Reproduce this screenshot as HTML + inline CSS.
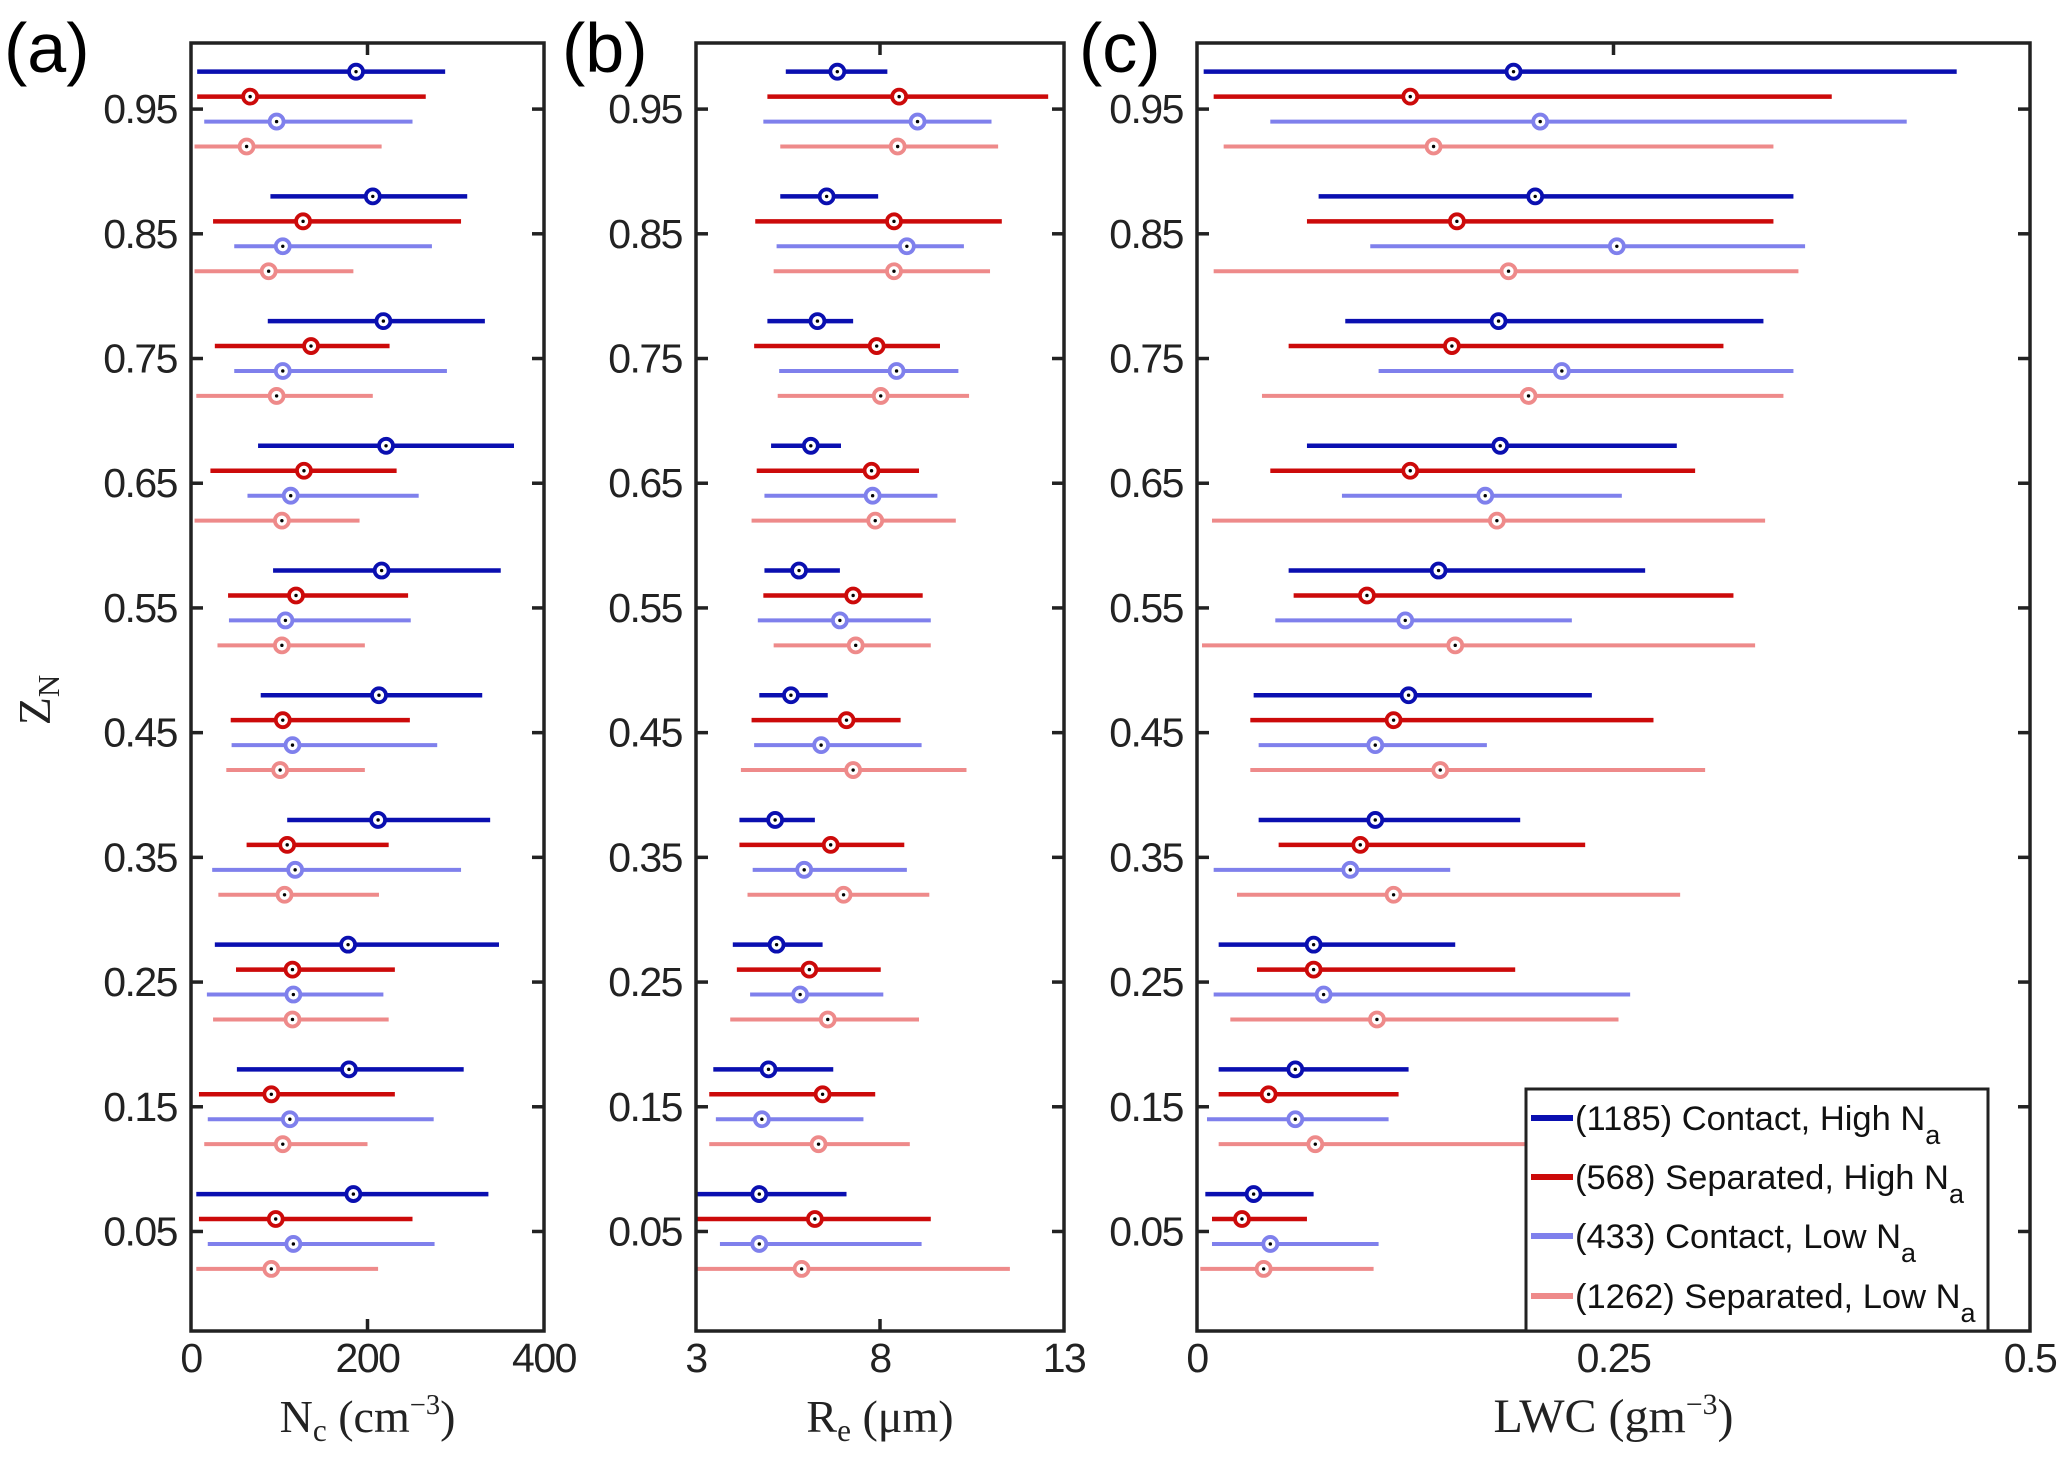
<!DOCTYPE html>
<html><head><meta charset="utf-8"><style>
html,body{margin:0;padding:0;background:#fff;}
svg{display:block;}
</style></head><body>
<svg id="fig" width="2067" height="1477" viewBox="0 0 2067 1477" xmlns="http://www.w3.org/2000/svg">
<rect width="2067" height="1477" fill="#fff"/>
<g id="plots"></g>
</svg>
<script>
const groups = [0.95,0.85,0.75,0.65,0.55,0.45,0.35,0.25,0.15,0.05];
const seriesNames = ["(1185) Contact, High N","(568) Separated, High N","(433) Contact, Low N","(1262) Separated, Low N"];
// panel a: Nc [lo, mid, hi] per group, per series
const ncBlue = [[7,187,288],[90,206,313],[87,218,333],[76,221,366],[93,216,351],[79,213,330],[109,212,339],[27,178,349],[52,179,309],[6,184,337]];
const ncRed  = [[7,67,266],[25,127,306],[27,136,225],[22,128,233],[42,119,246],[45,104,248],[63,109,224],[51,115,231],[9,91,231],[9,96,251]];
const ncLB   = [[15,97,251],[49,104,273],[49,104,290],[64,113,258],[43,107,249],[46,115,279],[24,118,306],[18,116,218],[19,112,275],[19,116,276]];
const ncPink = [[4,63,216],[4,88,184],[6,97,206],[4,103,191],[30,103,197],[40,101,197],[31,106,213],[25,115,224],[15,104,200],[6,91,212]];
// panel b: Re
const reBlue = [[5.44,6.84,8.2],[5.29,6.55,7.95],[4.94,6.3,7.27],[5.04,6.12,6.94],[4.86,5.8,6.91],[4.72,5.58,6.58],[4.18,5.15,6.23],[4.0,5.19,6.44],[3.47,4.97,6.73],[3.0,4.72,7.09]];
const reRed  = [[4.94,8.52,12.57],[4.61,8.38,11.31],[4.58,7.91,9.63],[4.65,7.77,9.06],[4.83,7.27,9.16],[4.51,7.09,8.56],[4.18,6.66,8.66],[4.11,6.08,8.02],[3.36,6.44,7.87],[3.0,6.23,9.38]];
const reLB   = [[4.83,9.02,11.03],[5.19,8.73,10.28],[5.26,8.45,10.13],[4.86,7.8,9.56],[4.68,6.91,9.38],[4.58,6.4,9.13],[4.54,5.94,8.73],[4.47,5.83,8.09],[3.54,4.79,7.55],[3.65,4.72,9.13]];
const rePink = [[5.29,8.48,11.21],[5.11,8.38,10.99],[5.22,8.02,10.42],[4.51,7.87,10.06],[5.11,7.34,9.38],[4.22,7.27,10.35],[4.4,7.01,9.34],[3.93,6.58,9.06],[3.36,6.33,8.81],[3.0,5.87,11.53]];
// panel c: LWC
const lwcBlue = [[0.004,0.19,0.456],[0.073,0.203,0.358],[0.089,0.181,0.34],[0.066,0.182,0.288],[0.055,0.145,0.269],[0.034,0.127,0.237],[0.037,0.107,0.194],[0.013,0.07,0.155],[0.013,0.059,0.127],[0.005,0.034,0.07]];
const lwcRed  = [[0.01,0.128,0.381],[0.066,0.156,0.346],[0.055,0.153,0.316],[0.044,0.128,0.299],[0.058,0.102,0.322],[0.032,0.118,0.274],[0.049,0.098,0.233],[0.036,0.07,0.191],[0.013,0.043,0.121],[0.009,0.027,0.066]];
const lwcLB   = [[0.044,0.206,0.426],[0.104,0.252,0.365],[0.109,0.219,0.358],[0.087,0.173,0.255],[0.047,0.125,0.225],[0.037,0.107,0.174],[0.01,0.092,0.152],[0.01,0.076,0.26],[0.006,0.059,0.115],[0.009,0.044,0.109]];
const lwcPink = [[0.016,0.142,0.346],[0.01,0.187,0.361],[0.039,0.199,0.352],[0.009,0.18,0.341],[0.003,0.155,0.335],[0.032,0.146,0.305],[0.024,0.118,0.29],[0.02,0.108,0.253],[0.013,0.071,0.22],[0.002,0.04,0.106]];
const yTicks = ["0.95","0.85","0.75","0.65","0.55","0.45","0.35","0.25","0.15","0.05"];
const aTicks = ["0","200","400"];
const bTicks = ["3","8","13"];
const cTicks = ["0","0.25","0.5"];

const NS="http://www.w3.org/2000/svg";
const root=document.getElementById('plots');
function mk(tag,attrs,parent){const e=document.createElementNS(NS,tag);for(const k in attrs)e.setAttribute(k,attrs[k]);(parent||root).appendChild(e);return e;}
const TOP=43,BOT=1331,YMAX=1.003,YMIN=-0.0298;
function yS(z){return TOP+(YMAX-z)/(YMAX-YMIN)*(BOT-TOP);}
const offsets=[0.03,0.01,-0.01,-0.03];
const colors=["#0a0fb0","#cc0a0a","#7f80ec","#ee8a8a"];
const widths=[4.5,4.5,4,4];
const panels=[
 {id:"a",L:191,R:544,min:0,max:400,ticks:aTicks,data:[ncBlue,ncRed,ncLB,ncPink],xt:"N",sub:"c",unit:" (cm",sup:"−3",lab:"(a)",labx:4,fs:46},
 {id:"b",L:696,R:1064,min:3,max:13,ticks:bTicks,data:[reBlue,reRed,reLB,rePink],xt:"R",sub:"e",unit:" (μm",sup:"",lab:"(b)",labx:562,fs:46},
 {id:"c",L:1197,R:2030,min:0,max:0.5,ticks:cTicks,data:[lwcBlue,lwcRed,lwcLB,lwcPink],xt:"LWC",sub:"",unit:" (gm",sup:"−3",lab:"(c)",labx:1079,fs:48}
];
panels.forEach(p=>{
 const g=mk('g',{});
 
 
 const xS=v=>p.L+(v-p.min)/(p.max-p.min)*(p.R-p.L);
 const clip=mk('clipPath',{id:'clip'+p.id},g);
 mk('rect',{x:p.L,y:TOP,width:p.R-p.L,height:BOT-TOP},clip);
 const marks=mk('g',{'clip-path':'url(#clip'+p.id+')'},g);
 p.data.forEach((ser,si)=>{
  ser.forEach((d,gi)=>{
   const y=yS(groups[gi]+offsets[si]);
   const ln=mk('line',{x1:xS(d[0]),x2:xS(d[2]),y1:y,y2:y,stroke:colors[si],'stroke-width':widths[si]},marks);
   
   
   const c=mk('circle',{cx:xS(d[1]),cy:y,r:7,fill:'#fff',stroke:colors[si],'stroke-width':3.8},marks);
   
   
   mk('circle',{cx:xS(d[1]),cy:y,r:1.7,fill:'#000'},marks);
  });
 });
 const fr=mk('rect',{x:p.L,y:TOP,width:p.R-p.L,height:BOT-TOP,fill:'none',stroke:'#222','stroke-width':3.5},g);
 
 
 yTicks.forEach(t=>{
  const y=yS(parseFloat(t));
  mk('line',{x1:p.L,x2:p.L+12,y1:y,y2:y,stroke:'#222','stroke-width':3.5},g);
  mk('line',{x1:p.R-12,x2:p.R,y1:y,y2:y,stroke:'#222','stroke-width':3.5},g);
  const tx=mk('text',{x:p.L-14,y:y+14,'text-anchor':'end','font-family':'Liberation Sans, sans-serif','font-size':41,fill:'#222','letter-spacing':'-1.5'},g);
  tx.textContent=t;
  
  
 });
 p.ticks.forEach((t,i)=>{
  const x=xS(parseFloat(t));
  if(i===1){
   mk('line',{x1:x,x2:x,y1:BOT,y2:BOT-12,stroke:'#222','stroke-width':3.5},g);
   mk('line',{x1:x,x2:x,y1:TOP,y2:TOP+12,stroke:'#222','stroke-width':3.5},g);
  }
  const tx=mk('text',{x:x,y:1372,'text-anchor':'middle','font-family':'Liberation Sans, sans-serif','font-size':41,fill:'#222','letter-spacing':'-1.5'},g);
  tx.textContent=t;
  
  
 });
 const tt=mk('text',{x:(p.L+p.R)/2,y:1432,'text-anchor':'middle','font-family':'Liberation Serif, serif','font-size':p.fs,fill:'#222'},g);
 
 
 let s=mk('tspan',{},tt);s.textContent=p.xt;
 if(p.sub){s=mk('tspan',{'font-size':p.fs*0.68,dy:9},tt);s.textContent=p.sub;s=mk('tspan',{dy:-9},tt);s.textContent=p.unit;}
 else{s=mk('tspan',{},tt);s.textContent=p.unit;}
 if(p.sup){s=mk('tspan',{'font-size':p.fs*0.62,dy:-18},tt);s.textContent=p.sup;s=mk('tspan',{dy:18},tt);s.textContent=")";}
 else{s=mk('tspan',{},tt);s.textContent=")";}
 const pl=mk('text',{x:p.labx,y:72,'font-family':'Liberation Sans, sans-serif','font-size':70,fill:'#000'},g);
 pl.textContent=p.lab;
 
 
});
const yt=mk('text',{x:0,y:0,transform:'translate(50,700) rotate(-90)','text-anchor':'middle','font-family':'Liberation Serif, serif','font-size':46,fill:'#222'});


let ts=mk('tspan',{},yt);ts.textContent='Z';ts=mk('tspan',{'font-size':31,dy:9},yt);ts.textContent='N';
const lg=mk('g',{});


mk('rect',{x:1526,y:1089,width:462,height:242,fill:'#fff',stroke:'#222','stroke-width':3},lg);
const legY=[1118,1177,1236,1296];
seriesNames.forEach((n,i)=>{
 const e=mk('g',{},lg);
 
 
 mk('line',{x1:1531,x2:1573,y1:legY[i],y2:legY[i],stroke:colors[i],'stroke-width':6},e);
 const t=mk('text',{x:1575,y:legY[i]+12,'font-family':'Liberation Sans, sans-serif','font-size':34.5,fill:'#111'},e);
 let a=mk('tspan',{},t);a.textContent=n;
 a=mk('tspan',{'font-size':27,dy:14},t);a.textContent='a';
});
</script>
</body></html>
